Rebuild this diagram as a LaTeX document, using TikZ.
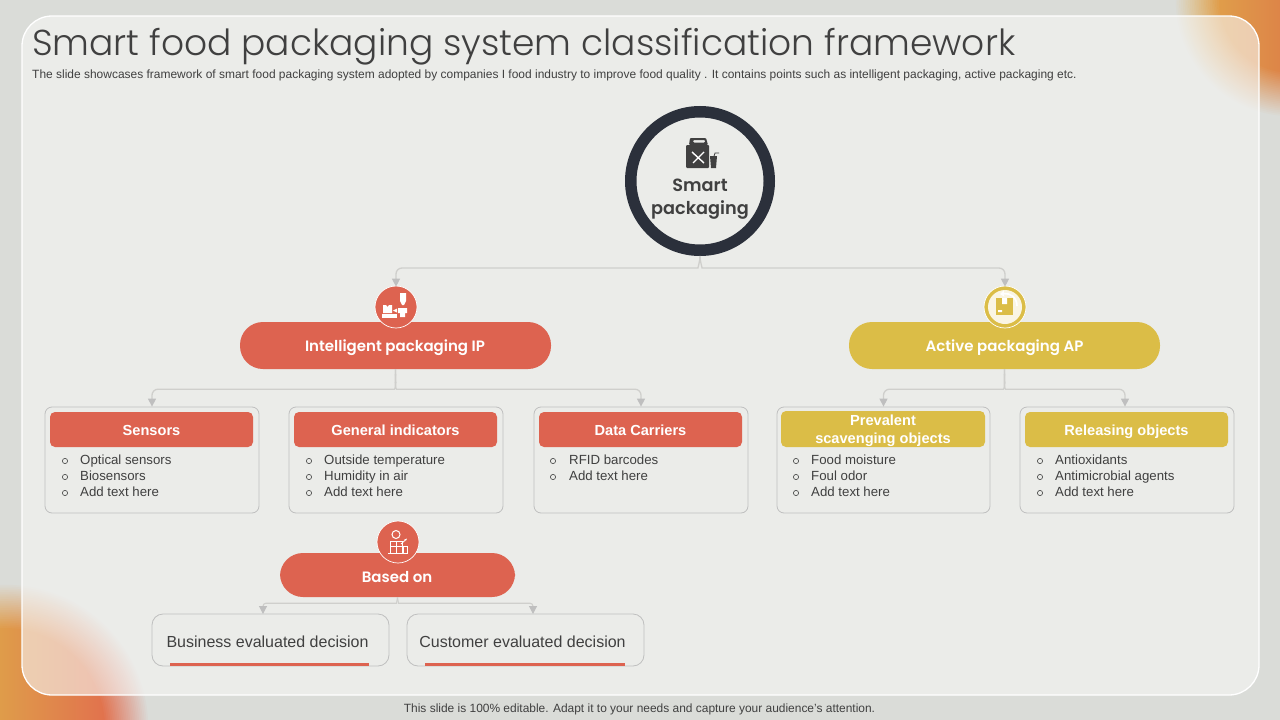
\documentclass[tikz,border=0pt]{standalone}
\usepackage{fontspec}
\usetikzlibrary{arrows.meta}
\setmainfont{Liberation Sans}
\newfontfamily\gothic{Poppins Light}
\newfontfamily\gothicbold{Poppins SemiBold}
\definecolor{pagebg}{HTML}{DADCD8}
\definecolor{panelbg}{HTML}{F7F7F5}
\definecolor{redfill}{HTML}{DD6350}
\definecolor{yellowfill}{HTML}{DBBD47}
\definecolor{ringdark}{HTML}{2B303B}
\definecolor{textdark}{HTML}{404040}
\definecolor{linkgrey}{HTML}{CFCFCC}
\definecolor{boxgrey}{HTML}{BFBFBF}
\definecolor{blobyellow}{HTML}{E2B04C}
\definecolor{bloborange}{HTML}{DD8548}
\definecolor{blobamber}{HTML}{DF9C4A}
\definecolor{blobred}{HTML}{E2604F}
\tikzset{
    pill/.style={rounded corners=23pt,minimum height=47pt},
    pilltext/.style={text=white,inner sep=0pt,font=\gothicbold\fontsize{15}{18}\selectfont},
    header/.style={rounded corners=5pt,minimum width=203pt,minimum height=35pt,text height=11pt,text depth=0pt,text=white,align=center,font=\fontsize{14.6}{18}\selectfont\bfseries},
    card/.style={draw=boxgrey,line width=.8pt,rounded corners=7pt,minimum width=214pt,minimum height=106pt},
    decision/.style={draw=boxgrey,line width=.8pt,rounded corners=11pt,minimum width=237pt,minimum height=52pt},
    decisiontext/.style={inner sep=0pt,text=textdark,font=\fontsize{16}{20}\selectfont},
    listtext/.style={anchor=north west,inner sep=0pt,align=left,text=textdark,font=\fontsize{13.25}{16}\selectfont},
    badge/.style={circle,minimum size=42pt,inner sep=0pt},
    link/.style={draw=linkgrey,line width=1.3pt,rounded corners=6pt,-{Triangle[width=8pt,length=8pt,color=boxgrey]}},
}
\begin{document}
\begin{tikzpicture}[x=1pt,y=-1pt]
    \useasboundingbox (0,0) rectangle (1280,720);
    \fill[pagebg] (0,0) rectangle (1280,720);

    \foreach \p in {0,4,...,100} {
        \pgfmathsetmacro{\rone}{118-.45*\p}
        \pgfmathsetmacro{\rtwo}{145-.45*\p}
        \begin{scope}
            \clip (1292,0) circle (\rone);
            \shade[left color=blobyellow!\p!pagebg,middle color=bloborange!\p!pagebg,right color=bloborange!\p!pagebg] (1170,0) rectangle (1280,125);
        \end{scope}
        \begin{scope}
            \clip (5,728) circle (\rtwo);
            \shade[left color=blobamber!\p!pagebg,right color=blobred!\p!pagebg] (0,575) rectangle (150,720);
        \end{scope}
    }
    \draw[white,line width=1.3pt,fill=panelbg,fill opacity=.6,rounded corners=30pt] (22,16) rectangle (1259,695);

    \node[anchor=west,inner sep=0pt,text=textdark,font=\gothic\fontsize{36}{44}\selectfont] (title) at (32,46.5) {Smart food packaging system classification framework};
    \node[anchor=west,inner sep=0pt,text=textdark,font=\fontsize{11.97}{14}\selectfont] (subtitle) at (32,75.5) {The slide showcases framework of smart food packaging system adopted by companies I food industry to improve food quality . It contains points such as intelligent packaging, active packaging etc.};
    \node[inner sep=0pt,text=textdark,font=\fontsize{11.95}{14}\selectfont] (footer) at (639.5,709.5) {This slide is 100\% editable. Adapt it to your needs and capture your audience's attention.};

    \node[circle,draw=ringdark,line width=11.5pt,minimum size=138.5pt] (hub) at (700,181) {};
    \node[align=center,inner sep=0pt,text=textdark,font=\gothicbold\fontsize{17.7}{23}\selectfont] (hubtext) at (700,199) {Smart\\packaging};
    % bag icon
    \fill[textdark,rounded corners=1pt] (686,145) rectangle (709,168);
    \fill[textdark,even odd rule,rounded corners=1pt] (689,145) -- (690,138) -- (706,138) -- (708,145) -- cycle (693,140) rectangle (705,142.5);
    \fill[textdark] (710,156) -- (717,156) -- (716,168) -- (711,168) -- cycle;
    \draw[textdark,line width=.8pt] (714,156) -- (715,153) -- (719,153);
    \draw[white,line width=1.4pt] (693,163) -- (704,152) (692,152) -- (704,163);

    \node[pill,fill=redfill,minimum width=311pt] (ip) at (395.5,345.5) {};
    \node[pill,fill=yellowfill,minimum width=311pt] (ap) at (1004.5,345.5) {};
    \node[pill,fill=redfill,minimum width=235pt,minimum height=44pt] (based) at (397.5,575) {};
    \node[pilltext] (iptext) at (395,347.5) {Intelligent packaging IP};
    \node[pilltext] (aptext) at (1004.5,347.5) {Active packaging AP};
    \node[pilltext] (basedtext) at (397,577) {Based on};

    \node[badge,fill=redfill,draw=white,line width=.7pt] (ipicon) at (396,307) {};
    \fill[white] (400,293) -- (406,293) -- (406,301) -- (404,305) -- (402,305) -- (400,301) -- cycle;
    \fill[white] (398,308) rectangle (407,313) (400,313) rectangle (405,317);
    \fill[white] (383,305) -- (386,305) -- (387.5,307) -- (389,305) -- (392,305) -- (392,313) -- (383,313) -- cycle;
    \fill[white] (382,314) rectangle (397,318);
    \fill[white] (393,310.5) -- (397,308.5) -- (397,312.5) -- cycle;

    \node[badge,fill=yellowfill,draw=white,line width=.7pt] (apicon) at (1005,307) {};
    \fill[white!85!yellowfill] (1005,307) circle (17);
    \fill[yellowfill] (996,298) rectangle (1013,315);
    \fill[white] (1002,298) rectangle (1007,304) (998,310) rectangle (1002,312);
    \draw[white,line width=1.6pt,-{Triangle[width=6pt,length=4pt]}] (1017,306) .. controls (1017,297) and (1010,293) .. (1000,294);

    \node[badge,fill=redfill,draw=white,line width=.7pt] (basedicon) at (398,542) {};
    \draw[white,line width=1pt] (396,534.5) circle (4);
    \draw[white,line width=1pt] (390,553) -- (390,541) -- (402,541) -- (402,553) (390,546) -- (402,546) (396,541) -- (396,553) (388,553) -- (404,553);
    \draw[white,line width=.8pt] (403,553) rectangle (407.5,546);
    \draw[white,line width=.8pt,-{Stealth[length=3pt]}] (401,544) -- (407,538.5);

    \node[card] (sensors) at (152,460) {};
    \node[card] (general) at (396,460) {};
    \node[card] (carriers) at (641,460) {};
    \node[card,minimum width=213pt] (prevalent) at (883.5,460) {};
    \node[card] (releasing) at (1127,460) {};

    \node[header,fill=redfill] (sensorshead) at (151.5,429.5) {Sensors};
    \node[header,fill=redfill] (generalhead) at (395.5,429.5) {General indicators};
    \node[header,fill=redfill] (carriershead) at (640.5,429.5) {Data Carriers};
    \node[fill=yellowfill,rounded corners=5pt,minimum width=204pt,minimum height=36pt] (prevalentbar) at (883,429) {};
    \node[inner sep=0pt,text=white,align=center,font=\fontsize{14.6}{18}\selectfont\bfseries] (prevalenthead) at (883,430.5) {Prevalent\\scavenging objects};
    \node[header,fill=yellowfill] (releasinghead) at (1126.5,429.5) {Releasing objects};

    \foreach \tx/\items/\name in {
        80/{Optical sensors\\Biosensors\\Add text here}/sensorslist,
        324/{Outside temperature\\Humidity in air\\Add text here}/generallist,
        569/{RFID barcodes\\Add text here}/carrierslist,
        811/{Food moisture\\Foul odor\\Add text here}/prevalentlist,
        1055/{Antioxidants\\Antimicrobial agents\\Add text here}/releasinglist}{
        \node[listtext] (\name) at (\tx,455) {\items};
    }
    \foreach \bx in {65,309,553,796,1040} {
        \foreach \by in {461,477,493} {
            \ifnum\bx=553 \ifnum\by=493 \else \draw[textdark,line width=.6pt] (\bx,\by) circle (2.6); \fi
            \else \draw[textdark,line width=.6pt] (\bx,\by) circle (2.6); \fi
        }
    }

    \node[decision] (business) at (270.5,640) {};
    \node[decision] (customer) at (525.5,640) {};
    \node[decisiontext] (businesstext) at (267.5,642) {Business evaluated decision};
    \node[decisiontext] (customertext) at (522.5,642) {Customer evaluated decision};
    \fill[redfill] (170,663) rectangle (369,666);
    \fill[redfill] (425,663) rectangle (625,666);
    \coordinate (businessin) at (263,614);
    \coordinate (customerin) at (533,614);

    \draw[link] (hub.south) to[out=-90,in=0] ++(-8,12) -| ([yshift=-1pt]ipicon.north);
    \draw[link] (hub.south) to[out=-90,in=180] ++(8,12) -| ([yshift=-1pt]apicon.north);
    \draw[link] (ip.south) to[out=-90,in=0] ++(-7,20) -| (sensors.north);
    \draw[link] (ip.south) to[out=-90,in=180] ++(7,20) -| (carriers.north);
    \draw[link] (ap.south) to[out=-90,in=0] ++(-7,20) -| (prevalent.north);
    \draw[link] (ap.south) to[out=-90,in=180] ++(7,20) -| ([xshift=-2pt]releasing.north);
    \draw[link,line width=1.1pt,rounded corners=3pt] (based.south) to[out=-90,in=0] ++(-4,6) -| (businessin);
    \draw[link,line width=1.1pt,rounded corners=3pt] (based.south) to[out=-90,in=180] ++(4,6) -| (customerin);
\end{tikzpicture}
\end{document}
